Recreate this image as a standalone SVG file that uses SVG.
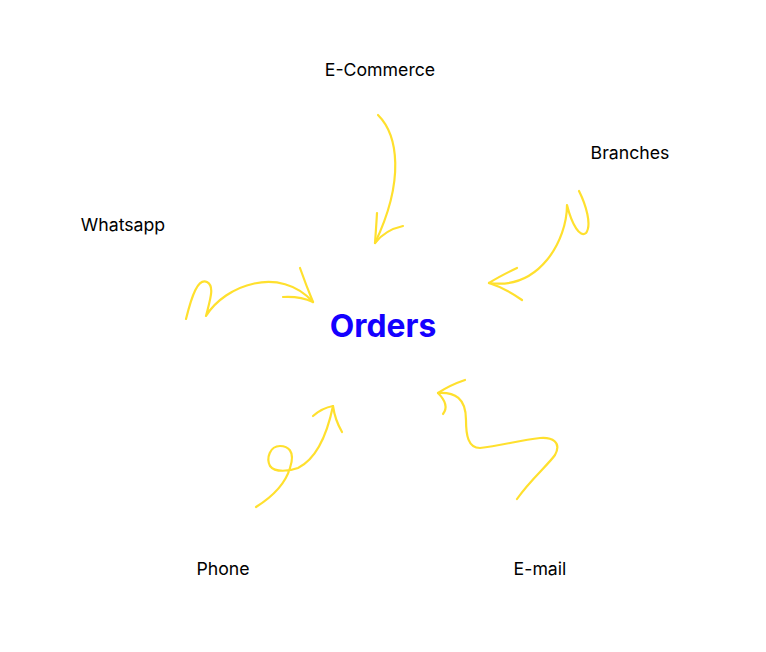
<svg xmlns="http://www.w3.org/2000/svg" width="766" height="652" viewBox="0 0 766 652">
<style>
.lbl{font-family:Inter,"Liberation Sans",sans-serif;font-size:17.7px;fill:#000}
.main{font-family:Inter,"Liberation Sans",sans-serif;font-size:31.8px;font-weight:700;fill:#1400ff}
.a{fill:none;stroke:#ffe02e;stroke-width:2.2;stroke-linecap:round;stroke-linejoin:round}
</style>
<rect width="766" height="652" fill="#fff"/>
<g id="connectors">
<g id="c-ecommerce"><path class="a" d="M378,115 C398,135 405,180 375,243"/><path class="a" d="M377,213 Q376,230 375,243"/><path class="a" d="M403,226 Q385,230 375,243"/></g>
<g id="c-branches"><path class="a" d="M579,191 C586,205 592,225 586,233 C580,238 572,225 567,205 C567,240 540,290 489,283"/><path class="a" d="M517,268 Q500,276 489,283"/><path class="a" d="M522,300 Q505,288 489,283"/></g>
<g id="c-whatsapp"><path class="a" d="M186,319 C192,295 198,278 207,282 C215,286 210,300 206,316 C225,285 280,265 313,302"/><path class="a" d="M300,268 Q306,285 313,302"/><path class="a" d="M283,297 Q300,296 313,302"/></g>
<g id="c-phone"><path class="a" d="M256,507 C272,497 285,485 290,468 C296,450 287,446 280,446 C270,446 266,458 270,466 C275,473 290,471 298,468 C318,458 328,430 333,406"/><path class="a" d="M313,416 Q322,408 333,406"/><path class="a" d="M342,432 Q335,420 333,406"/></g>
<g id="c-email"><path class="a" d="M517,499 C530,480 548,465 555,455 C562,442 552,437 540,438 C520,440 500,446 480,448 C468,448 466,435 466,420 C466,398 455,392 438,393"/><path class="a" d="M465,380 Q450,385 438,393"/><path class="a" d="M443,414 Q450,405 438,393"/></g>
</g>
<g id="orders"><text class="main" x="383" y="337" text-anchor="middle">Orders</text></g>
<g id="ecommerce"><text class="lbl" x="380" y="76" text-anchor="middle">E-Commerce</text></g>
<g id="branches"><text class="lbl" x="630" y="159" text-anchor="middle">Branches</text></g>
<g id="whatsapp"><text class="lbl" x="123" y="231" text-anchor="middle">Whatsapp</text></g>
<g id="phone"><text class="lbl" x="223" y="575" text-anchor="middle">Phone</text></g>
<g id="email"><text class="lbl" x="540" y="575" text-anchor="middle">E-mail</text></g>
</svg>
